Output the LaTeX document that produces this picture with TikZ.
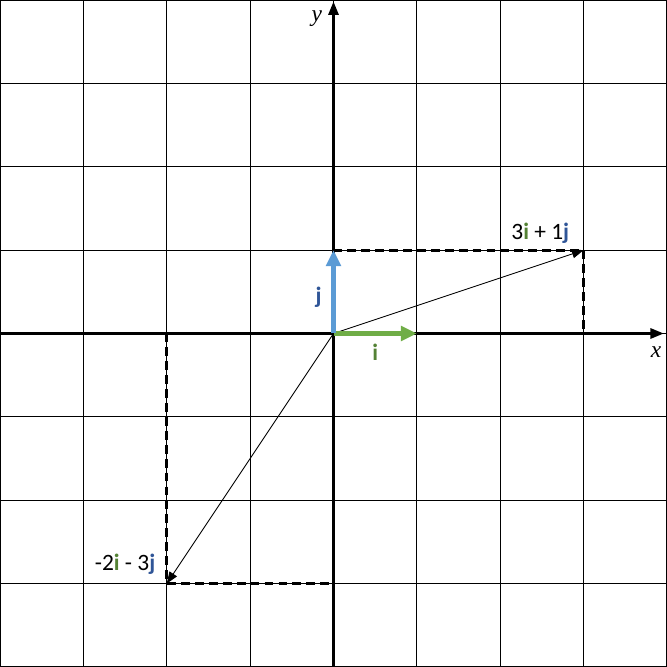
\documentclass[tikz,border=0pt]{standalone}
\usepackage{fontspec}
\setmainfont{Carlito}
\newfontfamily\axisfont{Liberation Serif}
\usetikzlibrary{arrows.meta}

\definecolor{unitgreen}{HTML}{70AD47}
\definecolor{unitblue}{HTML}{5B9BD5}
\definecolor{labelgreen}{HTML}{548235}
\definecolor{labelblue}{HTML}{2F5597}

\newcommand{\iunit}{\textbf{\textcolor{labelgreen}{i}}}
\newcommand{\junit}{\textbf{\textcolor{labelblue}{j}}}

\tikzset{
    gridline/.style={line width=0.7pt, black},
    axisline/.style={line width=1.4pt, -{Triangle[length=9pt, width=7pt]}},
    unitarrow/.style={line width=3.4pt, -{Triangle[length=11pt, width=10pt]}},
    sumarrow/.style={line width=0.6pt, -{Triangle[length=8pt, width=6pt]}},
    helperline/.style={line width=2pt, dash pattern=on 6pt off 3.5pt},
    veclabel/.style={font=\fontsize{16}{18}\selectfont, inner sep=1pt},
    axislabel/.style={font=\axisfont\itshape\fontsize{16}{18}\selectfont, inner sep=1pt}
}

\begin{document}
\begin{tikzpicture}[x=2cm, y=2cm]
        \useasboundingbox (-4,-4) rectangle (4,4);
        % grid
        \draw [gridline, step=2cm] (-4,-4) grid (4,4);
        \draw [gridline] (-4,-4) rectangle (4,4);

        % points
        \coordinate (origin) at (0,0);
        \coordinate (iend) at (1,0);
        \coordinate (jend) at (0,1);
        \coordinate (ptA) at (3,1);
        \coordinate (ptAx) at (3,0);
        \coordinate (ptB) at (-2,-3);
        \coordinate (ptBx) at (-2,0);
        \coordinate (ptBy) at (0,-3);
        \coordinate (xstart) at (-4,0);
        \coordinate (xend) at (3.96,0);
        \coordinate (ystart) at (0,-4);
        \coordinate (yend) at (0,3.98);

        % axes
        \draw [axisline] (xstart) -- (xend);
        \draw [axisline] (ystart) -- (yend);
        \node [axislabel] (xlab) at (3.87,-0.22) {x};
        \node [axislabel] (ylab) at (-0.2,3.78) {y};

        % dashed components
        \draw [helperline] (jend) -- (ptA) -- (ptAx);
        \draw [helperline] (ptBx) -- (ptB) -- (ptBy);

        % combined vectors
        \draw [sumarrow] (origin) -- (ptA);
        \draw [sumarrow] (origin) -- (ptB);
        \node [veclabel] (labA) at (2.48,1.2) {3\iunit{} + 1\junit};
        \node [veclabel] (labB) at (-2.5,-2.77) {-2\iunit{} - 3\junit};

        % unit vectors
        \draw [unitarrow, unitgreen] (origin) -- (iend);
        \draw [unitarrow, unitblue] (origin) -- (jend);
        \node [veclabel] (ilab) at (0.5,-0.23) {\iunit};
        \node [veclabel] (jlab) at (-0.18,0.44) {\junit};
    \end{tikzpicture}
\end{document}
